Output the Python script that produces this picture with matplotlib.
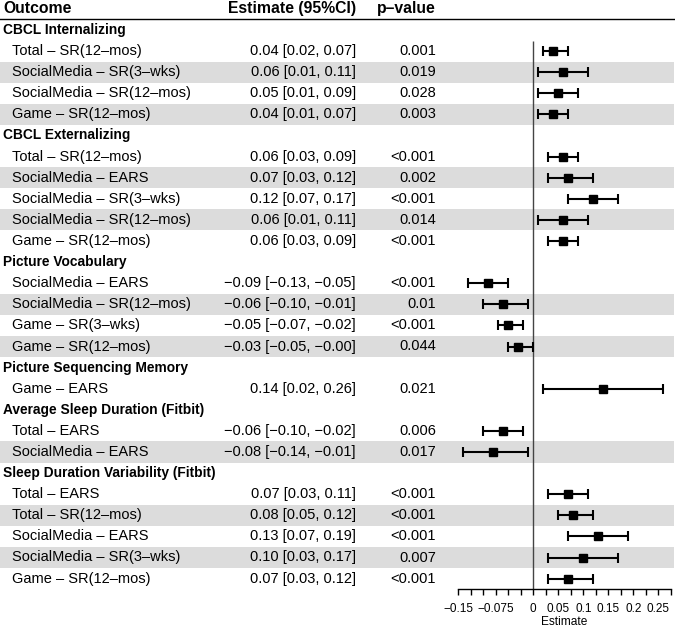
import numpy as np
import matplotlib
matplotlib.use('Agg')
import matplotlib.pyplot as plt
from matplotlib.patches import Rectangle

plt.rcParams['font.family'] = ['Liberation Sans', 'DejaVu Sans']

# ===== Data =====
groups = [
    "CBCL Internalizing",
    "CBCL Externalizing",
    "Picture Vocabulary",
    "Picture Sequencing Memory",
    "Average Sleep Duration (Fitbit)",
    "Sleep Duration Variability (Fitbit)",
]
items = [
    ["Total – SR(12–mos)", "SocialMedia – SR(3–wks)", "SocialMedia – SR(12–mos)", "Game – SR(12–mos)"],
    ["Total – SR(12–mos)", "SocialMedia – EARS", "SocialMedia – SR(3–wks)", "SocialMedia – SR(12–mos)",
     "Game – SR(12–mos)"],
    ["SocialMedia – EARS", "SocialMedia – SR(12–mos)", "Game – SR(3–wks)", "Game – SR(12–mos)"],
    ["Game – EARS"],
    ["Total – EARS", "SocialMedia – EARS"],
    ["Total – EARS", "Total – SR(12–mos)", "SocialMedia – EARS", "SocialMedia – SR(3–wks)",
     "Game – SR(12–mos)"],
]
est = [
    [0.04, 0.06, 0.05, 0.04],
    [0.06, 0.07, 0.12, 0.06, 0.06],
    [-0.09, -0.06, -0.05, -0.03],
    [0.14],
    [-0.06, -0.08],
    [0.07, 0.08, 0.13, 0.10, 0.07],
]
lo = [
    [0.02, 0.01, 0.01, 0.01],
    [0.03, 0.03, 0.07, 0.01, 0.03],
    [-0.13, -0.10, -0.07, -0.05],
    [0.02],
    [-0.10, -0.14],
    [0.03, 0.05, 0.07, 0.03, 0.03],
]
hi = [
    [0.07, 0.11, 0.09, 0.07],
    [0.09, 0.12, 0.17, 0.11, 0.09],
    [-0.05, -0.01, -0.02, -0.0],
    [0.26],
    [-0.02, -0.01],
    [0.11, 0.12, 0.19, 0.17, 0.12],
]
pvals = [
    ["0.001", "0.019", "0.028", "0.003"],
    ["<0.001", "0.002", "<0.001", "0.014", "<0.001"],
    ["<0.001", "0.01", "<0.001", "0.044"],
    ["0.021"],
    ["0.006", "0.017"],
    ["<0.001", "<0.001", "<0.001", "0.007", "<0.001"],
]
tick_pos = [-0.15, -0.075, 0, 0.05, 0.1, 0.15, 0.2, 0.25]
tick_labels = ["−0.15", "−0.075", "0", "0.05", "0.1", "0.15", "0.2", "0.25"]

# ===== Layout (pixels) =====
W, H = 675, 632
ROW0, ROW_H = 30.0, 21.1
X_GROUP, X_ITEM, X_EST, X_P = 3, 12, 356, 436
X_LEFT, X_RIGHT = 458.3, 670.8
SHADE = '#dcdcdc'
FS = 10.5        # body text
FS_GROUP = 9.9   # bold group labels
FS_HEAD = 11.3   # column headers

def ypix(r):
    return ROW0 + r * ROW_H

def fmt(v):
    return f"{v:.2f}".replace('-', '−')

fig = plt.figure(figsize=(W / 100, H / 100), dpi=100)
bg = fig.add_axes([0, 0, 1, 1])
bg.set_xlim(0, W)
bg.set_ylim(H, 0)
bg.axis('off')

n_rows = sum(len(g) + 1 for g in items)
top, bottom = ypix(-0.5), ypix(n_rows - 0.5)
ax = fig.add_axes([X_LEFT / W, (H - bottom) / H, (X_RIGHT - X_LEFT) / W, (bottom - top) / H])
ax.patch.set_alpha(0)

# header
bg.text(X_GROUP, ypix(-1), "Outcome", fontsize=FS_HEAD, fontweight='bold', va='center', ha='left')
bg.text(X_EST, ypix(-1), "Estimate (95%CI)", fontsize=FS_HEAD, fontweight='bold', va='center', ha='right')
bg.text(X_P, ypix(-1), "p–value", fontsize=FS_HEAD, fontweight='bold', va='center', ha='right')
bg.plot([0, 674], [top - 0.8, top - 0.8], color='black', lw=1.0)

rows_y, rows_e, rows_l, rows_h = [], [], [], []
r = 0
for g, name in enumerate(groups):
    bg.text(X_GROUP, ypix(r), name, fontsize=FS_GROUP, fontweight='bold', va='center', ha='left')
    r += 1
    for k, lab in enumerate(items[g]):
        if k % 2 == 1:
            bg.add_patch(Rectangle((0, ypix(r) - ROW_H / 2), 674, ROW_H, color=SHADE, lw=0, zorder=0))
        bg.text(X_ITEM, ypix(r), lab, fontsize=FS, va='center', ha='left')
        ci = f"{fmt(est[g][k])} [{fmt(lo[g][k])}, {fmt(hi[g][k])}]"
        bg.text(X_EST, ypix(r), ci, fontsize=FS, va='center', ha='right')
        bg.text(X_P, ypix(r), pvals[g][k], fontsize=FS, va='center', ha='right')
        rows_y.append(r)
        rows_e.append(est[g][k])
        rows_l.append(lo[g][k])
        rows_h.append(hi[g][k])
        r += 1

rows_e = np.array(rows_e)
xerr = [rows_e - np.array(rows_l), np.array(rows_h) - rows_e]
ax.errorbar(rows_e, rows_y, xerr=xerr, fmt='s', color='black', ms=5.6,
            capsize=3.3, elinewidth=1.5, capthick=1.5, zorder=3)
ax.vlines(0, 0.5, n_rows - 0.5, color='#444444', lw=1.0, zorder=2)

ax.set_xlim(-0.15, 0.275)
ax.set_ylim(n_rows - 0.5, -0.5)
ax.set_yticks([])
for s in ['top', 'right', 'left']:
    ax.spines[s].set_visible(False)
ax.spines['bottom'].set_linewidth(1.0)

ax.xaxis.remove_overlapping_locs = False
ax.set_xticks(np.arange(-0.15, 0.2751, 0.025), minor=True)
ax.set_xticks(tick_pos)
ax.set_xticklabels(tick_labels)
ax.tick_params(axis='x', which='minor', length=4, width=1.0, direction='out')
ax.tick_params(axis='x', which='major', length=0, pad=10, labelsize=8.5)
ax.set_xlabel("Estimate", fontsize=8.6, labelpad=1)

fig.savefig('out.png', dpi=100, facecolor='white')
